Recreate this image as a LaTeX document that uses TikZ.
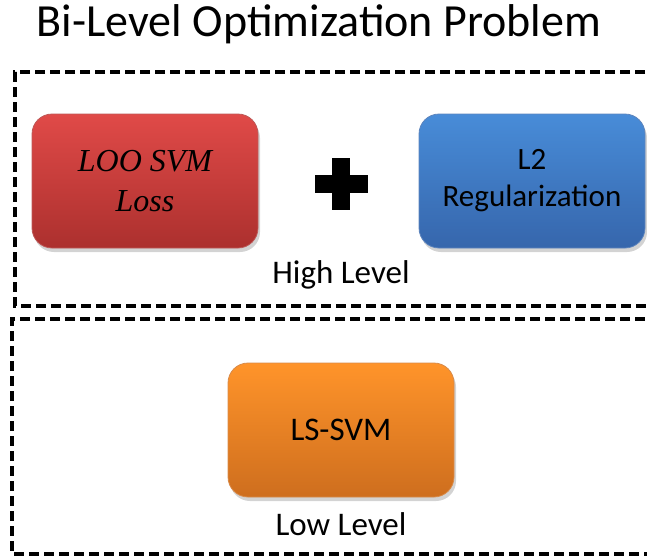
\documentclass[tikz,border=0pt]{standalone}
\usepackage{fontspec}
\setmainfont{Carlito}
\newfontfamily\lossfont{Liberation Serif}
\usepackage{tikz}
\usetikzlibrary{positioning,shadows,calc}
\definecolor{myred}{RGB}{224,74,72}
\definecolor{myreddark}{RGB}{172,48,46}
\definecolor{myblue}{RGB}{72,140,216}
\definecolor{mybluedark}{RGB}{54,102,172}
\definecolor{myorange}{RGB}{255,148,42}
\definecolor{myorangedark}{RGB}{206,110,30}

\begin{document}
\begin{tikzpicture}[
  x=1pt, y=-1pt,
  levelbox/.style={
    draw=black,
    line width=3.5pt,
    dash pattern=on 10pt off 5pt
    },
  mybox/.style 2 args={
    rounded corners=20pt,
    minimum width=226pt,
    minimum height=134pt,
    align=center,
    draw=#2!80!white,
    line width=0.8pt,
    top color=#1,
    bottom color=#2,
    drop shadow={opacity=0.35, shadow xshift=2pt, shadow yshift=-4pt},
    font=\fontsize{31}{37}\selectfont
    },
  mylabel/.style={
    font=\fontsize{33}{38}\selectfont
    }
]
\useasboundingbox (0,0) rectangle (647,558);

\node[font=\fontsize{46}{52}\selectfont, anchor=base] (title) at (319,36) {Bi-Level Optimization Problem};

\draw[levelbox] (660,72) -- (15,72) -- (15,306) -- (660,306);
\draw[levelbox] (660,319) -- (12,319) -- (12,554) -- (660,554);

\node[mybox={myred}{myreddark}, font=\fontsize{32}{40}\selectfont\lossfont\itshape] (loss) at (145,181)
  {LOO SVM\\Loss};
\node[mybox={myblue}{mybluedark}] (reg) at (532,181)
  {L2\\Regularization};
\node[mybox={myorange}{myorangedark}, font=\fontsize{33}{38}\selectfont] (lssvm) at (341,430)
  {LS-SVM};

\fill (332,158) rectangle (350,210);
\fill (315,175) rectangle (368,193);
\coordinate (plus) at (341,184);

\node[mylabel] (high) at (341,275) {High Level};
\node[mylabel, below=12pt of lssvm] (low) {Low Level};
\end{tikzpicture}
\end{document}
